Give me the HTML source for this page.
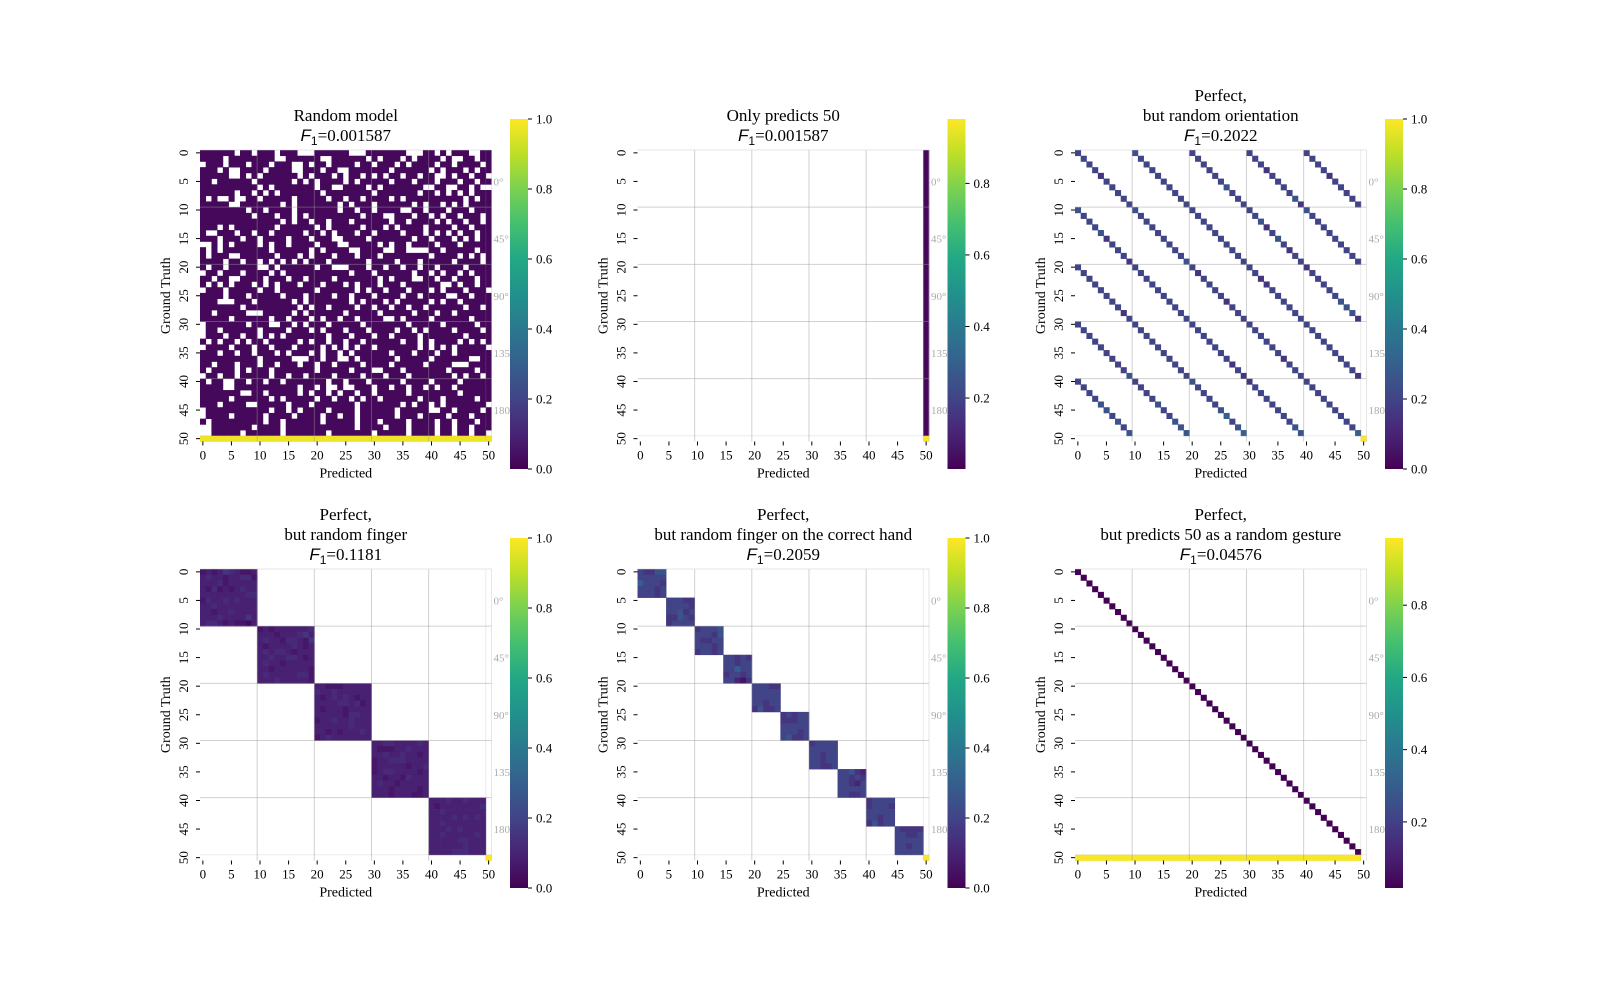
<!DOCTYPE html>
<html><head><meta charset="utf-8"><style>
html,body{margin:0;padding:0;background:#fff;}
svg{display:block;}
text{font-family:"Liberation Serif",serif;fill:#000;}
</style></head><body>
<svg id="fig" width="1600" height="1000" viewBox="0 0 1600 1000" xmlns="http://www.w3.org/2000/svg"></svg>
<script>
// ---------- data ----------
const N = 51;
const angleLabels = ["0°","45°","90°","135","180"];
const axisTicks = [0,5,10,15,20,25,30,35,40,45,50];
// panel 1: white (missing) columns per row 0..49 ; others purple
const randWhite = [
[6,9,13,17,18,19,26,27,28,36,37,38,41,43,47,48],[4,13,14,21,22,29,31,35,37,42,44,45,48],
[0,4,8,12,16,17,19,22,27,30,34,36,41,44,49],[3,5,6,11,16,17,21,24,25,33,40,42,46,48],
[5,6,8,10,17,19,23,25,28,30,32,35,38,41,42,44,47,50],[2,9,16,18,20,25,27,33,37,41,45,48],
[10,12,20,23,24,29,31,39,40,43,44,47,49,50],[6,9,11,13,21,30,38,41,43,45,47],
[1,3,4,6,7,10,16,22,25,28,33,35,46,48],[5,6,14,16,24,26,30,37,39,42,44,46],
[8,11,16,24,27,30,35,36,39,43,47],[9,13,16,18,28,32,33,37,40,42,45,49],
[14,16,19,22,26,33,36,41,43,46,49],[3,5,13,20,22,28,32,34,39,44,47],
[1,2,6,9,12,18,21,23,27,30,35,39,41,43,45,48],[3,7,10,15,19,23,24,29,37,40,44,46,48],
[0,1,3,5,10,12,15,20,24,25,31,33,36,41,45],[1,3,12,19,21,26,27,32,33,36,37,38,39,42,48],
[1,5,6,13,17,19,23,27,31,40,45,47,49],[4,7,10,12,14,16,18,22,29,34,38,44,49],
[1,4,10,11,13,20,23,24,25,29,32,35,38,41,46],[0,3,7,12,14,26,30,37,40,42,45,47],
[2,5,6,11,15,18,23,31,33,37,38,41,44,48],[1,3,5,9,11,13,17,21,25,27,31,35,42,43,45,48],
[0,4,10,13,20,27,29,32,36,40,42,46,50],[4,8,14,18,23,26,30,35,38,43,44,47],
[3,4,5,9,16,18,26,28,32,34,40,42,45],[7,17,19,22,27,30,33,36,39,46,49],
[2,8,9,10,16,18,25,31,37,41,44],[5,12,15,19,21,24,27,32,33,35,40,47],
[0,8,12,13,16,18,22,28,36,42,48],[0,3,10,15,19,21,25,29,34,37,39,44,49],
[0,4,7,10,12,14,22,26,30,33,38,46],[1,3,6,8,11,17,19,22,25,28,35,38,40,45,47,49],
[0,5,9,12,16,21,23,25,27,30,38,40,42,44,50],[3,6,9,13,15,19,21,24,26,33,37,41,44],
[10,16,17,18,21,24,25,27,34,40,47,48],[2,6,10,13,17,20,23,28,33,39,44,45,46],
[1,6,8,12,20,26,30,31,35,43,48],[0,3,6,12,15,18,23,28,32,36,44,46,49],
[1,4,5,8,11,14,22,25,29,35,40,45],[4,5,17,20,22,23,25,26,30,33,36,39,41,44],
[7,8,11,17,19,22,24,27,30,36,45],[5,12,14,20,23,26,28,31,38,42,48],
[3,8,9,15,19,27,35,37,40,42,50],[0,12,15,17,22,27,34,40,41,44,49],
[0,5,11,16,21,24,27,34,38,43,47],[1,11,14,21,27,31,36,41,44,48],
[0,1,9,14,27,32,36,41,44,47],[0,1,7,14,22,30,36,41,44,47,50]];
const randPurpleValue = 0.02;
const lastRowValue = 0.98;
// panel 3: per row, 5 values (digit*0.05) at cols r%10 + 10k
const orientVals = ["45444","44444","44444","44434","34443","44444","44544","44444","44454","44434",
"55445","44444","44454","44434","54444","34454","44444","44434","44444","35444",
"44443","44344","44434","44434","44444","44444","44345","44445","34445","44443",
"44444","44444","44444","44444","44444","44444","44434","44344","44444","54343",
"44534","44444","44444","44444","55444","54544","44644","55444","45554","55656"];
// panel 4: 10x10 blocks, digit*0.03
const fingerVals = [
"2323543223","3433233442","3334233333","3242323433","3333333344","2433434333","3343333333","3323343333","3334333353","3443232213",
"2323333334","3332333453","3433244325","3233334323","3434432333","3343344323","3433233333","3323333332","3433333442","3334333332",
"3322233333","4334333333","3234343233","3333443423","3233323333","3333324433","2334334333","3333334333","3323233343","2343333333",
"3344333343","3222334333","3343343323","2334443333","2333332334","2344333323","3323324333","3433233333","3332333323","3332333223",
"3334334333","3233333334","3343333333","3333434343","3343333333","3334343333","3343333343","3333344333","3333334333","3333444333"];
// panel 5: 5x5 blocks, digit*0.05
const handVals = [
"43355","44444","64443","44434","44434","44433","44443","44534","33543","34444",
"34445","44435","43344","44434","34434","44343","44344","44644","34434","44213",
"44433","44444","44444","44344","35334","34344","33344","44444","44434","45334",
"34444","44444","44344","44344","44334","44532","44343","44324","44444","44334",
"34444","34443","44444","44344","35344","43333","44334","44444","44344","44444"];
const predOnlyValue = 0.02;
const diagValue = 0.02;
// ---------- build matrices ----------
function empty(){return Array.from({length:N},()=>new Array(N).fill(null));}
const M1 = empty();
for(let r=0;r<50;r++){for(let c=0;c<N;c++){M1[r][c]=randWhite[r].includes(c)?null:randPurpleValue;}}
for(let c=0;c<N;c++) M1[50][c]=lastRowValue;
const M2 = empty();
for(let r=0;r<50;r++) M2[r][50]=predOnlyValue;
M2[50][50]=lastRowValue;
const M3 = empty();
for(let r=0;r<50;r++){for(let k=0;k<5;k++){M3[r][(r%10)+10*k]=(+orientVals[r][k])*0.05;}}
M3[50][50]=1.0;
const M4 = empty();
for(let r=0;r<50;r++){const b=Math.floor(r/10);for(let j=0;j<10;j++){M4[r][b*10+j]=(+fingerVals[r][j])*0.03;}}
M4[50][50]=1.0;
const M5 = empty();
for(let r=0;r<50;r++){const b=Math.floor(r/5);for(let j=0;j<5;j++){M5[r][b*5+j]=(+handVals[r][j])*0.05;}}
M5[50][50]=1.0;
const M6 = empty();
for(let r=0;r<50;r++) M6[r][r]=diagValue;
for(let c=0;c<50;c++) M6[50][c]=lastRowValue;

// ---------- viridis ----------
const VIR=[[68,1,84],[72,36,117],[65,68,135],[53,95,141],[42,120,142],[33,145,140],[34,168,132],[68,191,112],[122,209,81],[189,223,38],[253,231,37]];
function viridis(t){t=Math.max(0,Math.min(1,t));const p=t*10,i=Math.min(9,Math.floor(p)),f=p-i;
 const a=VIR[i],b=VIR[i+1];return `rgb(${Math.round(a[0]+(b[0]-a[0])*f)},${Math.round(a[1]+(b[1]-a[1])*f)},${Math.round(a[2]+(b[2]-a[2])*f)})`;}

// ---------- drawing ----------
const svg=document.getElementById('fig');
const NS="http://www.w3.org/2000/svg";
function el(tag,attrs,parent){const e=document.createElementNS(NS,tag);for(const k in attrs)e.setAttribute(k,attrs[k]);(parent||svg).appendChild(e);return e;}
const S=291.5, CELL=S/N;

const panels=[
 {x:200,y:150,m:M1,title:["Random model"],f1:"0.001587",vmin:0,vmax:1,ticks:[0,0.2,0.4,0.6,0.8,1.0]},
 {x:637.5,y:150,m:M2,title:["Only predicts 50"],f1:"0.001587",vmin:0.0016,vmax:0.98,ticks:[0.2,0.4,0.6,0.8]},
 {x:1075,y:150,m:M3,title:["Perfect,","but random orientation"],f1:"0.2022",vmin:0,vmax:1,ticks:[0,0.2,0.4,0.6,0.8,1.0]},
 {x:200,y:569,m:M4,title:["Perfect,","but random finger"],f1:"0.1181",vmin:0,vmax:1,ticks:[0,0.2,0.4,0.6,0.8,1.0]},
 {x:637.5,y:569,m:M5,title:["Perfect,","but random finger on the correct hand"],f1:"0.2059",vmin:0,vmax:1,ticks:[0,0.2,0.4,0.6,0.8,1.0]},
 {x:1075,y:569,m:M6,title:["Perfect,","but predicts 50 as a random gesture"],f1:"0.04576",vmin:0.017,vmax:0.986,ticks:[0.2,0.4,0.6,0.8]}
];
let gid=0;
panels.forEach((p,pi)=>{
 const g=el('g',{});
 
 
 const xs=c=>p.x+c*CELL, ys=r=>p.y+r*CELL;
 const cx=p.x+S/2;
 // cells
 for(let r=0;r<N;r++)for(let c=0;c<N;c++){const v=p.m[r][c];if(v===null)continue;
  const t=(v-p.vmin)/(p.vmax-p.vmin);
  const rc=el('rect',{x:xs(c).toFixed(2),y:ys(r).toFixed(2),width:(CELL+0.35).toFixed(2),height:(CELL+0.35).toFixed(2),fill:viridis(t)},g);
  
  }
 // grid lines
 [10,20,30,40,50].forEach(k=>{
  const l1=el('line',{x1:xs(k),x2:xs(k),y1:p.y,y2:p.y+S,stroke:'#999',"stroke-opacity":k===50?0.2:0.45,"stroke-width":1},g);
  
  const l2=el('line',{x1:p.x,x2:p.x+S,y1:ys(k),y2:ys(k),stroke:'#999',"stroke-opacity":k===50?0.2:0.45,"stroke-width":1},g);
  
 });
 el('line',{x1:p.x,x2:p.x+S,y1:p.y,y2:p.y,stroke:'#ccc',"stroke-opacity":0.5},g);
 el('line',{x1:p.x+S,x2:p.x+S,y1:p.y,y2:p.y+S,stroke:'#ccc',"stroke-opacity":0.5},g);
 // angle labels
 angleLabels.forEach((a,i)=>{const t=el('text',{x:p.x+S+2,y:ys(5+10*i+0.5)+4,"font-size":11,fill:'#aaa',style:'fill:#aaa'},g);t.textContent=a;
  });
 // ticks
 axisTicks.forEach(v=>{
  const tx=xs(v+0.5);
  el('line',{x1:tx,x2:tx,y1:p.y+S,y2:p.y+S+4,stroke:'#000',"stroke-width":1},g);
  const t=el('text',{x:tx,y:p.y+S+18,"font-size":13,"text-anchor":"middle"},g);t.textContent=v;
  
  const ty=ys(v+0.5);
  el('line',{x1:p.x-4,x2:p.x,y1:ty,y2:ty,stroke:'#000',"stroke-width":1},g);
  const t2=el('text',{x:0,y:0,"font-size":13,"text-anchor":"middle",transform:`translate(${p.x-12},${ty}) rotate(-90)`},g);t2.textContent=v;
  
 });
 const xl=el('text',{x:cx,y:p.y+S+36,"font-size":14,"text-anchor":"middle"},g);xl.textContent="Predicted";
 
 const yl=el('text',{x:0,y:0,"font-size":14,"text-anchor":"middle",transform:`translate(${p.x-30},${p.y+S/2}) rotate(-90)`},g);yl.textContent="Ground Truth";
 
 // title
 const lines=p.title.length;
 p.title.forEach((s,i)=>{const t=el('text',{x:cx,y:p.y-15-(lines-i)*20+6,"font-size":17,"text-anchor":"middle"},g);t.textContent=s;
  });
 const ft=el('text',{x:cx,y:p.y-9,"font-size":17,"text-anchor":"middle"},g);
 
 const a=el('tspan',{style:'font-family:"Liberation Sans",sans-serif;font-style:italic'},ft);a.textContent="F";
 const b=el('tspan',{dy:4,"font-size":12,style:'font-family:"Liberation Sans",sans-serif'},ft);b.textContent="1";
 const c2=el('tspan',{dy:-4},ft);c2.textContent="=0.000".slice(0,0)+"="+p.f1;
 // colorbar
 const bx=p.x+310, by=p.y-31, bw=18, bh=350;
 const id='cb'+(gid++);
 const defs=el('defs',{},g);
 const lg=el('linearGradient',{id:id,x1:0,y1:1,x2:0,y2:0},defs);
 for(let i=0;i<=20;i++){el('stop',{offset:i/20,"stop-color":viridis(i/20)},lg);}
 const cb=el('rect',{x:bx,y:by,width:bw,height:bh,fill:`url(#${id})`},g);
 
 p.ticks.forEach(v=>{const ty=by+bh-(v-p.vmin)/(p.vmax-p.vmin)*bh;
  el('line',{x1:bx+bw,x2:bx+bw+4,y1:ty,y2:ty,stroke:'#000'},g);
  const t=el('text',{x:bx+bw+8,y:ty+4.5,"font-size":13},g);t.textContent=v.toFixed(1);
  });
});
</script>
</body></html>
